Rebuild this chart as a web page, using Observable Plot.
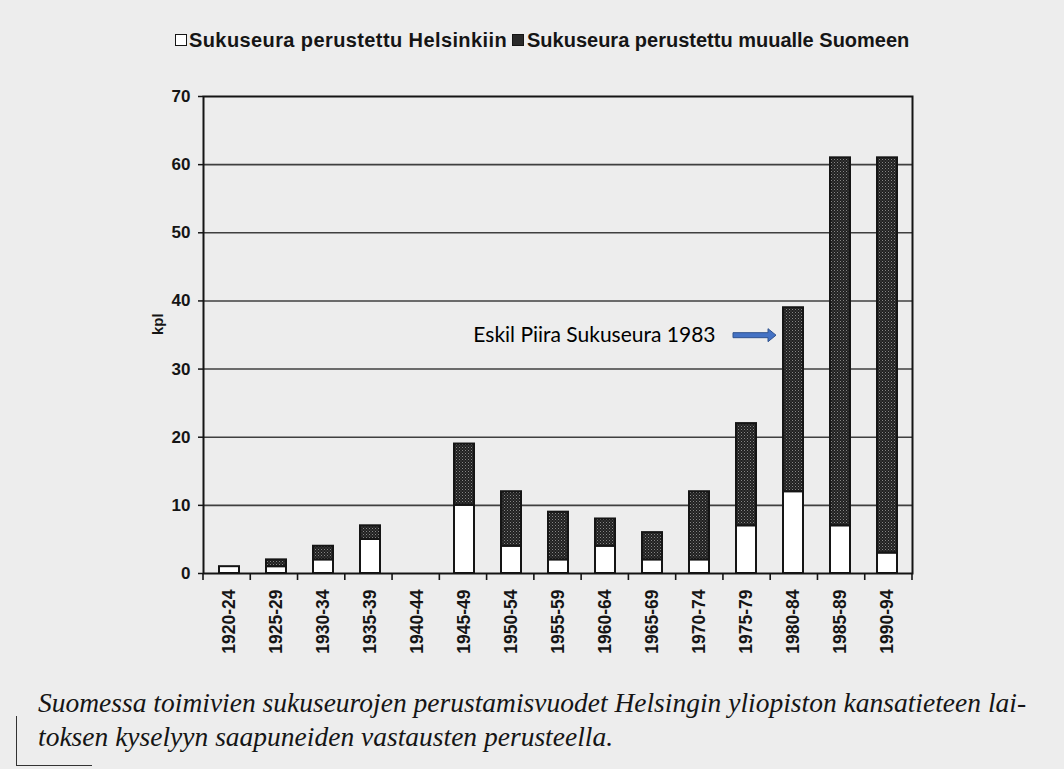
<!DOCTYPE html>
<html>
<head>
<meta charset="utf-8">
<script src="https://cdn.jsdelivr.net/npm/d3@7"></script>
<script src="https://cdn.jsdelivr.net/npm/@observablehq/plot@0.6"></script>
<style>
  html, body { margin: 0; padding: 0; background: #ededed; width: 1064px; height: 769px; overflow: hidden; }
  #legend { position: absolute; left: 0; top: 0; font-family: "Liberation Sans", Arial, sans-serif; font-weight: bold; font-size: 20px; color: #151515; white-space: nowrap; }
  #legend > * { position: absolute; }
  .sw { width: 10px; height: 10px; border: 1.5px solid #151515; top: 34px; }
  .sw.white { background: #fff; left: 175px; }
  .sw.dark { background: #2a2a2a; left: 512px; }
  .lt { top: 28px; line-height: 24px; }
  .lt.a { left: 189px; letter-spacing: 0.4px; }
  .lt.b { left: 527px; }
  #chart { position: absolute; left: 0; top: 0; }
  #caption { position: absolute; left: 38px; top: 686px; font-family: "Liberation Serif", "DejaVu Serif", serif; font-style: italic; font-size: 27.5px; line-height: 34px; color: #151515; white-space: nowrap; }
  .pageline-v { position: absolute; left: 16px; top: 716px; width: 0; height: 50px; border-left: 1.5px solid #333; }
  .pageline-h { position: absolute; left: 16px; top: 765px; width: 76px; height: 0; border-top: 1.5px solid #333; }
</style>
</head>
<body>
<div id="legend"></div>
<div id="chart"></div>
<div id="caption"></div>
<div class="pageline-v"></div>
<div class="pageline-h"></div>
<script>
// ---- data ----
const periods = ["1920-24","1925-29","1930-34","1935-39","1940-44","1945-49","1950-54","1955-59","1960-64","1965-69","1970-74","1975-79","1980-84","1985-89","1990-94"];
const helsinki = [1, 1, 2, 5, 0, 10, 4, 2, 4, 2, 2, 7, 12, 7, 3];
const muualle  = [0, 1, 2, 2, 0, 9, 8, 7, 4, 4, 10, 15, 27, 54, 58];
const seriesNames = ["Sukuseura perustettu Helsinkiin", "Sukuseura perustettu muualle Suomeen"];
const yTicks = [0, 10, 20, 30, 40, 50, 60, 70];
const gridValues = [10, 20, 30, 40, 50, 60];
const yLabel = "kpl";
const annotationText = "Eskil Piira Sukuseura 1983";
const annotationPeriod = "1980-84";
const annotationY = 34.9;
const captionLines = [
  "Suomessa toimivien sukuseurojen perustamisvuodet Helsingin yliopiston kansatieteen lai-",
  "toksen kyselyyn saapuneiden vastausten perusteella."
];

// rows for stacking (Helsinki at the bottom)
const rows = [];
periods.forEach((p, i) => {
  if (helsinki[i] > 0) rows.push({period: p, series: seriesNames[0], value: helsinki[i]});
  if (muualle[i] > 0) rows.push({period: p, series: seriesNames[1], value: muualle[i]});
});

// legend
const legend = document.getElementById("legend");
legend.innerHTML = `<span class="sw white"></span><span class="lt a">${seriesNames[0]}</span><span class="sw dark"></span><span class="lt b">${seriesNames[1]}</span>`;

// caption
document.getElementById("caption").innerHTML = captionLines.join("<br>");

const PAD_IN = 0.58;

const boundaryTicks = (index, scales, values, dims) => {
  const g = d3.create("svg:g").attr("stroke", "#151515").attr("stroke-width", 1.6);
  const left = dims.marginLeft, right = dims.width - dims.marginRight;
  const step = (right - left) / periods.length;
  const y0 = scales.y(0);
  for (let k = 0; k <= periods.length; k++) {
    const x = left + k * step;
    g.append("line").attr("x1", x).attr("x2", x).attr("y1", y0).attr("y2", y0 + 7);
  }
  return g.node();
};

const blockArrow = (index, scales, values, dims) => {
  const bandStart = scales.x(annotationPeriod);
  const tip = bandStart - 7;
  const tail = tip - 43;
  const y = scales.y(annotationY);
  const hs = 2.5, hh = 6.5, hl = 8;
  const pts = [
    [tail, y - hs], [tip - hl, y - hs], [tip - hl, y - hh], [tip, y],
    [tip - hl, y + hh], [tip - hl, y + hs], [tail, y + hs]
  ];
  const g = d3.create("svg:g");
  g.append("polygon").attr("points", pts.map(p => p.join(",")).join(" "))
    .attr("fill", "#4472c4").attr("stroke", "#2f528f").attr("stroke-width", 1);
  return g.node();
};

const chart = Plot.plot({
  width: 1064,
  height: 680,
  marginLeft: 203,
  marginRight: 152,
  marginTop: 96,
  marginBottom: 107,
  style: {background: "transparent", fontFamily: "'Liberation Sans', Arial, sans-serif", color: "#151515"},
  x: {domain: periods, paddingInner: PAD_IN, paddingOuter: PAD_IN / 2, label: null},
  y: {domain: [0, 70], label: null},
  color: {domain: seriesNames, range: ["#ffffff", "url(#stipple)"]},
  marks: [
    Plot.ruleY(gridValues, {stroke: "#3f3f3f", strokeWidth: 1.6}),
    Plot.axisY({ticks: yTicks, tickSize: 5, tickPadding: 8, fontSize: 17, fontWeight: "bold", label: null, strokeWidth: 1.5}),
    Plot.axisX({tickSize: 0, tickPadding: 16, tickRotate: -90, fontSize: 17.5, fontWeight: "bold", label: null}),
    Plot.barY(rows, {x: "period", y: "value", fill: "series", stroke: "#151515", strokeWidth: 2}),
    boundaryTicks,
    Plot.frame({stroke: "#151515", strokeWidth: 2}),
    Plot.text([yLabel], {frameAnchor: "left", dx: -45, rotate: -90, fontWeight: "bold", fontSize: 15, text: d => d}),
    Plot.text([annotationText], {x: () => annotationPeriod, y: () => annotationY, text: d => d, textAnchor: "end", dx: -78, fontSize: 21, fontFamily: "Lato, 'Open Sans', sans-serif", fill: "#000"}),
    blockArrow
  ]
});

const ns = "http://www.w3.org/2000/svg";
const svg = chart.tagName.toLowerCase() === "svg" ? chart : chart.querySelector("svg");
const defs = document.createElementNS(ns, "defs");
defs.innerHTML = `<pattern id="stipple" width="3" height="3" patternUnits="userSpaceOnUse">
  <rect width="3" height="3" fill="#202020"/>
  <rect x="0" y="0" width="1" height="1" fill="#858585"/>
  <rect x="1.5" y="1.5" width="1" height="1" fill="#5e5e5e"/>
</pattern>`;
svg.insertBefore(defs, svg.firstChild);
document.getElementById("chart").appendChild(chart);
</script>
</body>
</html>
